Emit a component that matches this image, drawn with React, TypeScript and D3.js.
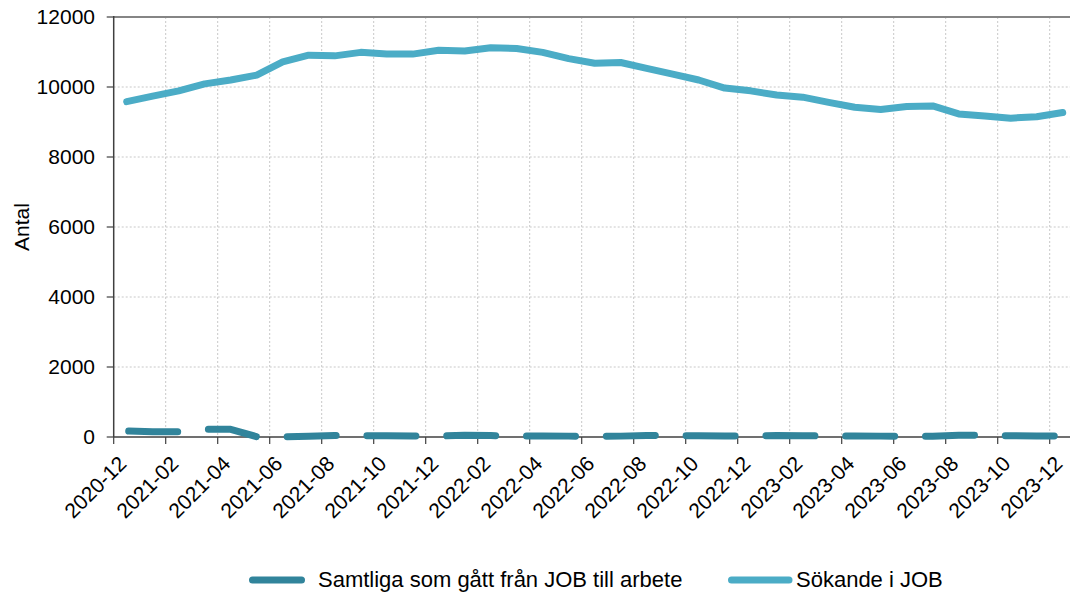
import React, { useEffect, useRef } from 'react';
import * as d3 from 'd3';

const months = [
  '2020-12', '2021-01', '2021-02', '2021-03', '2021-04', '2021-05', '2021-06', '2021-07',
  '2021-08', '2021-09', '2021-10', '2021-11', '2021-12', '2022-01', '2022-02', '2022-03',
  '2022-04', '2022-05', '2022-06', '2022-07', '2022-08', '2022-09', '2022-10', '2022-11',
  '2022-12', '2023-01', '2023-02', '2023-03', '2023-04', '2023-05', '2023-06', '2023-07',
  '2023-08', '2023-09', '2023-10', '2023-11', '2023-12'
];

const tillArbete = [
  170, 150, 150, 220, 220, 10, 5, 20, 40, 40, 35, 30, 25, 50, 40, 30,
  30, 25, 20, 25, 45, 40, 35, 30, 25, 45, 35, 30, 30, 25, 20, 20,
  50, 55, 35, 30, 25
];

const sokande = [
  9580, 9740, 9890, 10090, 10200, 10340, 10720, 10910, 10890, 10990, 10940, 10940,
  11050, 11030, 11120, 11100, 10990, 10810, 10680, 10700, 10530, 10370, 10200, 9970,
  9890, 9770, 9710, 9560, 9420, 9360, 9440, 9460, 9230, 9170, 9110, 9150, 9270
];

const yTicks = [0, 2000, 4000, 6000, 8000, 10000, 12000];

const seriesNames = ['Samtliga som gått från JOB till arbete', 'Sökande i JOB'];
const seriesColors = ['#31849b', '#4bacc6'];

const FONT = "'Liberation Sans', Arial, sans-serif";

const App: React.FC = () => {
  const svgRef = useRef<SVGSVGElement>(null);

  useEffect(() => {
    if (!svgRef.current) return;
    const svg = d3.select(svgRef.current);
    svg.selectAll('*').remove();

    const left = 113.7;
    const top = 17;
    const bottom = 437;
    const band = 26;
    const W = 1070;

    const x = d3.scaleBand<string>()
      .domain(months)
      .range([left, left + band * months.length])
      .padding(0);
    const y = d3.scaleLinear().domain([0, 12000]).range([bottom, top]);
    const cx = (m: string) => (x(m) || 0) + x.bandwidth() / 2;

    const g = svg.append('g');

    // grid
    g.selectAll('.hgrid')
      .data(yTicks.filter(t => t > 0 && t < 12000))
      .enter().append('line')
      .attr('x1', left).attr('x2', W)
      .attr('y1', d => y(d)).attr('y2', d => y(d))
      .attr('stroke', '#c8c8c8').attr('stroke-width', 1)
      .attr('stroke-dasharray', '2,2');

    const tickMonths = months.filter((_, i) => i % 2 === 0);
    g.selectAll('.vgrid')
      .data(tickMonths.slice(1))
      .enter().append('line')
      .attr('x1', d => x(d) || 0).attr('x2', d => x(d) || 0)
      .attr('y1', top).attr('y2', bottom)
      .attr('stroke', '#c8c8c8').attr('stroke-width', 1)
      .attr('stroke-dasharray', '2,2');

    // top border
    g.append('line')
      .attr('x1', left).attr('x2', W)
      .attr('y1', top).attr('y2', top)
      .attr('stroke', '#858585').attr('stroke-width', 2);

    // y axis
    g.append('line')
      .attr('x1', left).attr('x2', left)
      .attr('y1', top - 1).attr('y2', bottom)
      .attr('stroke', '#404040').attr('stroke-width', 1.5);
    g.selectAll('.ytick')
      .data(yTicks)
      .enter().append('line')
      .attr('x1', left - 7).attr('x2', left)
      .attr('y1', d => y(d)).attr('y2', d => y(d))
      .attr('stroke', '#404040').attr('stroke-width', 1.2);
    g.selectAll('.ylab')
      .data(yTicks)
      .enter().append('text')
      .attr('x', 95)
      .attr('y', d => y(d))
      .attr('dy', '0.35em')
      .attr('text-anchor', 'end')
      .style('font-family', FONT)
      .style('font-size', '21px')
      .attr('fill', '#000')
      .text(d => String(d));

    svg.append('text')
      .attr('transform', 'translate(29,227) rotate(-90)')
      .attr('text-anchor', 'middle')
      .style('font-family', FONT)
      .style('font-size', '21px')
      .attr('fill', '#000')
      .text('Antal');

    // x axis
    g.append('line')
      .attr('x1', left).attr('x2', W)
      .attr('y1', bottom).attr('y2', bottom)
      .attr('stroke', '#404040').attr('stroke-width', 1.5);
    g.selectAll('.xtick')
      .data(tickMonths)
      .enter().append('line')
      .attr('x1', d => x(d) || 0).attr('x2', d => x(d) || 0)
      .attr('y1', bottom).attr('y2', bottom + 7)
      .attr('stroke', '#404040').attr('stroke-width', 1.2);
    g.selectAll('.xlab')
      .data(tickMonths)
      .enter().append('text')
      .attr('transform', d => `translate(${cx(d) + 1},${bottom + 28}) rotate(-45)`)
      .attr('text-anchor', 'end')
      .style('font-family', FONT)
      .style('font-size', '21px')
      .attr('fill', '#000')
      .text(d => d);

    // lines
    const line = d3.line<number>()
      .x((_, i) => cx(months[i]))
      .y(d => y(d));

    g.append('path')
      .datum(sokande)
      .attr('d', line)
      .attr('fill', 'none')
      .attr('stroke', seriesColors[1])
      .attr('stroke-width', 7)
      .attr('stroke-linecap', 'round')
      .attr('stroke-linejoin', 'round');

    g.append('path')
      .datum(tillArbete)
      .attr('d', line)
      .attr('fill', 'none')
      .attr('stroke', seriesColors[0])
      .attr('stroke-width', 7)
      .attr('stroke-linecap', 'round')
      .attr('stroke-linejoin', 'round')
      .attr('stroke-dasharray', '49 30.8')
      .attr('stroke-dashoffset', -2);

    // legend
    const legend = [
      { name: seriesNames[0], color: seriesColors[0], x1: 252.5, x2: 301.5, tx: 318 },
      { name: seriesNames[1], color: seriesColors[1], x1: 731.5, x2: 789, tx: 796 }
    ];
    const lg = svg.append('g');
    legend.forEach(l => {
      lg.append('line')
        .attr('x1', l.x1).attr('x2', l.x2)
        .attr('y1', 580).attr('y2', 580)
        .attr('stroke', l.color)
        .attr('stroke-width', 7)
        .attr('stroke-linecap', 'round');
      lg.append('text')
        .attr('x', l.tx)
        .attr('y', 587)
        .style('font-family', FONT)
        .style('font-size', '22px')
        .attr('fill', '#000')
        .text(l.name);
    });
  }, []);

  return (
    <svg
      ref={svgRef}
      width={1070}
      height={592}
      style={{ position: 'absolute', left: 0, top: 0, overflow: 'hidden', background: '#fff' }}
    ></svg>
  );
};

export default App;
